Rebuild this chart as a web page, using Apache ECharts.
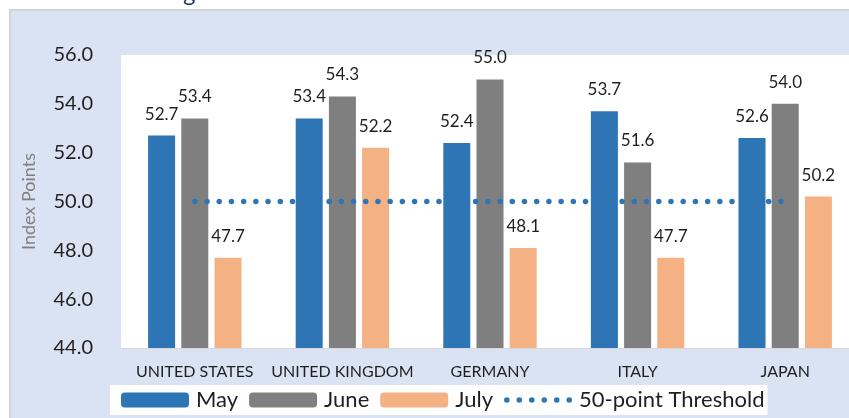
<!DOCTYPE html>
<html>
<head>
<meta charset="utf-8">
<script src="https://cdn.jsdelivr.net/npm/echarts@6/dist/echarts.min.js"></script>
<style>
  html, body { margin: 0; padding: 0; background: #ffffff; }
  #chart { width: 849px; height: 418px; }
</style>
</head>
<body>
<div id="chart"></div>
<script>
// PMI readings by country, May–July
const categories = ['UNITED STATES', 'UNITED KINGDOM', 'GERMANY', 'ITALY', 'JAPAN'];
const mayValues  = [52.7, 53.4, 52.4, 53.7, 52.6];
const juneValues = [53.4, 54.3, 55.0, 51.6, 54.0];
const julyValues = [47.7, 52.2, 48.1, 47.7, 50.2];
const thresholdValues = [50, 50, 50, 50, 50];
const seriesNames = ['May', 'June', 'July', '50-point Threshold'];
const yMin = 44, yMax = 56, yStep = 2;

const FONT = 'Lato, "Open Sans", sans-serif';
const TEXT = '#1f1f1f';
const BLUE = '#2e75b6';

// Legend icon for the threshold: a row of six round dots (corner specks fix the box size)
function dottedIcon() {
  let p = 'path://M0 0L0.01 0L0.01 0.01ZM68 15L67.99 15L67.99 14.99Z';
  const r = 2.8;
  for (let i = 0; i < 6; i++) {
    const cx = 2.8 + i * 12.5;
    p += 'M' + (cx - r) + ' 7.5a' + r + ' ' + r + ' 0 1 0 ' + (2 * r) + ' 0a' + r + ' ' + r + ' 0 1 0 ' + (-2 * r) + ' 0Z';
  }
  return p;
}

const chart = echarts.init(document.getElementById('chart'), null, { renderer: 'canvas' });

const valueLabel = {
  show: true,
  position: 'top',
  distance: 13,
  color: TEXT,
  fontFamily: FONT,
  fontSize: 17,
  formatter: p => p.value.toFixed(1)
};

function barSeries(name, data, color) {
  return {
    name: name,
    type: 'bar',
    data: data,
    barWidth: 27,
    barGap: '23%',
    itemStyle: { color: color },
    label: valueLabel,
    z: 2
  };
}

chart.setOption({
  animation: false,
  backgroundColor: '#ffffff',
  textStyle: { fontFamily: FONT },
  graphic: [
    {
      type: 'rect',
      z: -10,
      shape: { x: 10, y: 10, width: 850, height: 420 },
      style: { fill: '#dae3f3', stroke: '#d4d4d4', lineWidth: 2 }
    },
    {
      type: 'text',
      z: -5,
      left: 183,
      top: -19,
      style: { text: 'g', fill: '#1f3864', font: '24px ' + FONT }
    }
  ],
  grid: {
    left: 121,
    top: 55,
    width: 738,
    height: 293,
    outerBoundsMode: 'none',
    containLabel: false,
    show: true,
    backgroundColor: '#ffffff',
    borderWidth: 0
  },
  legend: {
    data: [
      { name: seriesNames[0] },
      { name: seriesNames[1] },
      { name: seriesNames[2] },
      { name: seriesNames[3], icon: dottedIcon() }
    ],
    left: 110,
    top: 385,
    padding: [4, 3, 4, 11],
    backgroundColor: '#ffffff',
    itemWidth: 68,
    itemHeight: 15,
    itemGap: 11,
    textStyle: { color: TEXT, fontFamily: FONT, fontSize: 22, padding: [0, 0, 0, 2] }
  },
  xAxis: {
    type: 'category',
    data: categories,
    axisTick: { show: false },
    axisLine: { lineStyle: { color: '#d9d9d9', width: 1 } },
    axisLabel: { color: TEXT, fontFamily: FONT, fontSize: 16, margin: 16, interval: 0 }
  },
  yAxis: {
    type: 'value',
    min: yMin,
    max: yMax,
    interval: yStep,
    name: 'Index Points',
    nameLocation: 'middle',
    nameGap: 83,
    nameTextStyle: { color: '#808080', fontFamily: FONT, fontSize: 18 },
    splitLine: { show: false },
    axisLine: { show: false },
    axisTick: { show: false },
    axisLabel: {
      color: TEXT,
      fontFamily: FONT,
      fontSize: 20,
      margin: 28,
      formatter: v => v.toFixed(1)
    }
  },
  series: [
    barSeries(seriesNames[0], mayValues, BLUE),
    barSeries(seriesNames[1], juneValues, '#7f7f7f'),
    barSeries(seriesNames[2], julyValues, '#f4b183'),
    {
      name: seriesNames[3],
      type: 'line',
      data: thresholdValues,
      symbol: 'none',
      z: 3,
      itemStyle: { color: BLUE },
      lineStyle: { color: BLUE, width: 5.5, type: [0.01, 12.2], cap: 'round' }
    }
  ]
});
</script>
</body>
</html>
